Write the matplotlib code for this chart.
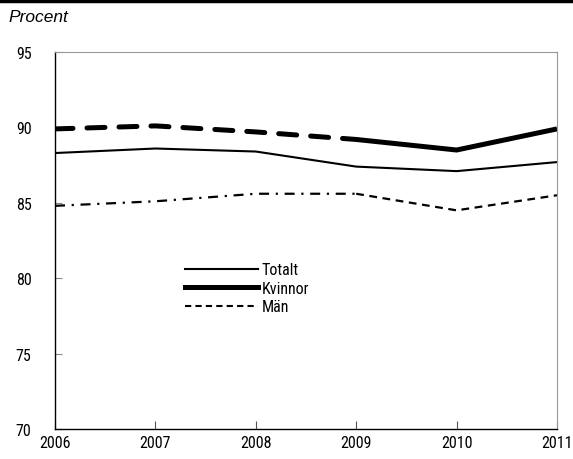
import matplotlib
matplotlib.use("Agg")
import matplotlib.pyplot as plt
from matplotlib import font_manager
from matplotlib.font_manager import FontProperties
from matplotlib.lines import Line2D

years = [2006, 2007, 2008, 2009, 2010, 2011]
totalt = [88.3, 88.6, 88.4, 87.4, 87.1, 87.7]
kvinnor = [89.9, 90.1, 89.7, 89.2, 88.5, 89.9]
man = [84.8, 85.1, 85.6, 85.6, 84.5, 85.5]
yticks = [70, 75, 80, 85, 90, 95]


def find_condensed():
    entries = font_manager.fontManager.ttflist
    def pick(cond):
        for f in entries:
            if cond(f) and f.style == 'normal' and f.weight in (400, 'normal', 'regular'):
                return f.fname
        return None
    for test in [
        lambda f: f.name == 'Roboto Condensed',
        lambda f: f.name == 'Liberation Sans Narrow',
        lambda f: 'DejaVuSansCondensed.ttf' in f.fname,
        lambda f: ('Condensed' in f.name or 'Narrow' in f.name) and 'Mono' not in f.name and 'Serif' not in f.name,
    ]:
        p = pick(test)
        if p:
            return p
    return None


path = find_condensed()
if path:
    fp = lambda size: FontProperties(fname=path, size=size)
else:
    fp = lambda size: FontProperties(family='Liberation Sans', size=size)

fig = plt.figure(figsize=(5.73, 4.60), dpi=100)
ax = fig.add_axes([55/573, 30/460, 502/573, 377/460])

# Totalt
ax.plot(years, totalt, color='black', lw=1.5, solid_capstyle='butt')
# Kvinnor: dashed until 2009, solid after
ax.plot(years[:4], kvinnor[:4], color='black', lw=3.6, dashes=(3.6, 2.8), dash_capstyle='round')
ax.plot(years[3:], kvinnor[3:], color='black', lw=3.6, solid_capstyle='butt')
# Män: dash-dot until 2009, dashed after
ax.plot(years[:4], man[:4], color='black', lw=1.6, dashes=(4.5, 3, 1, 3))
ax.plot(years[3:], man[3:], color='black', lw=1.6, dashes=(3.5, 2.5))

ax.set_xlim(2006, 2011)
ax.set_ylim(70, 95)
ax.set_xticks(years)
ax.set_xticklabels([str(y) for y in years], fontproperties=fp(11.5))
ax.set_yticks(yticks)
ax.set_yticklabels([str(v) for v in yticks], fontproperties=fp(11.5))
ax.tick_params(axis='x', direction='in', length=6, width=0.8, color='#555555', pad=4)
ax.tick_params(axis='y', direction='in', length=5, width=0.8, color='#888888', pad=17)

for s in ['top', 'right']:
    ax.spines[s].set_color('#999999')
    ax.spines[s].set_linestyle((0, (2, 1)))
    ax.spines[s].set_linewidth(0.8)
for s in ['left', 'bottom']:
    ax.spines[s].set_color('black')
    ax.spines[s].set_linewidth(1.0)

handles = [
    Line2D([], [], color='black', lw=1.5),
    Line2D([], [], color='black', lw=3.6),
    Line2D([], [], color='black', lw=1.5, dashes=(3, 2)),
]
ax.legend(handles, ['Totalt', 'Kvinnor', 'Män'], frameon=False, loc='upper left',
          bbox_to_anchor=(0.23, 0.48), handlelength=4.6, handletextpad=0.2,
          labelspacing=0.22, prop=fp(11.5))

fig.text(8/573, 1 - 17/460, 'Procent', fontsize=12.5, style='italic',
         family=['Liberation Sans', 'DejaVu Sans'], va='center')
fig.add_artist(Line2D([0, 1], [1 - 1.5/460, 1 - 1.5/460], color='black', lw=2.5,
                      transform=fig.transFigure))

fig.savefig('out.png', dpi=100)
